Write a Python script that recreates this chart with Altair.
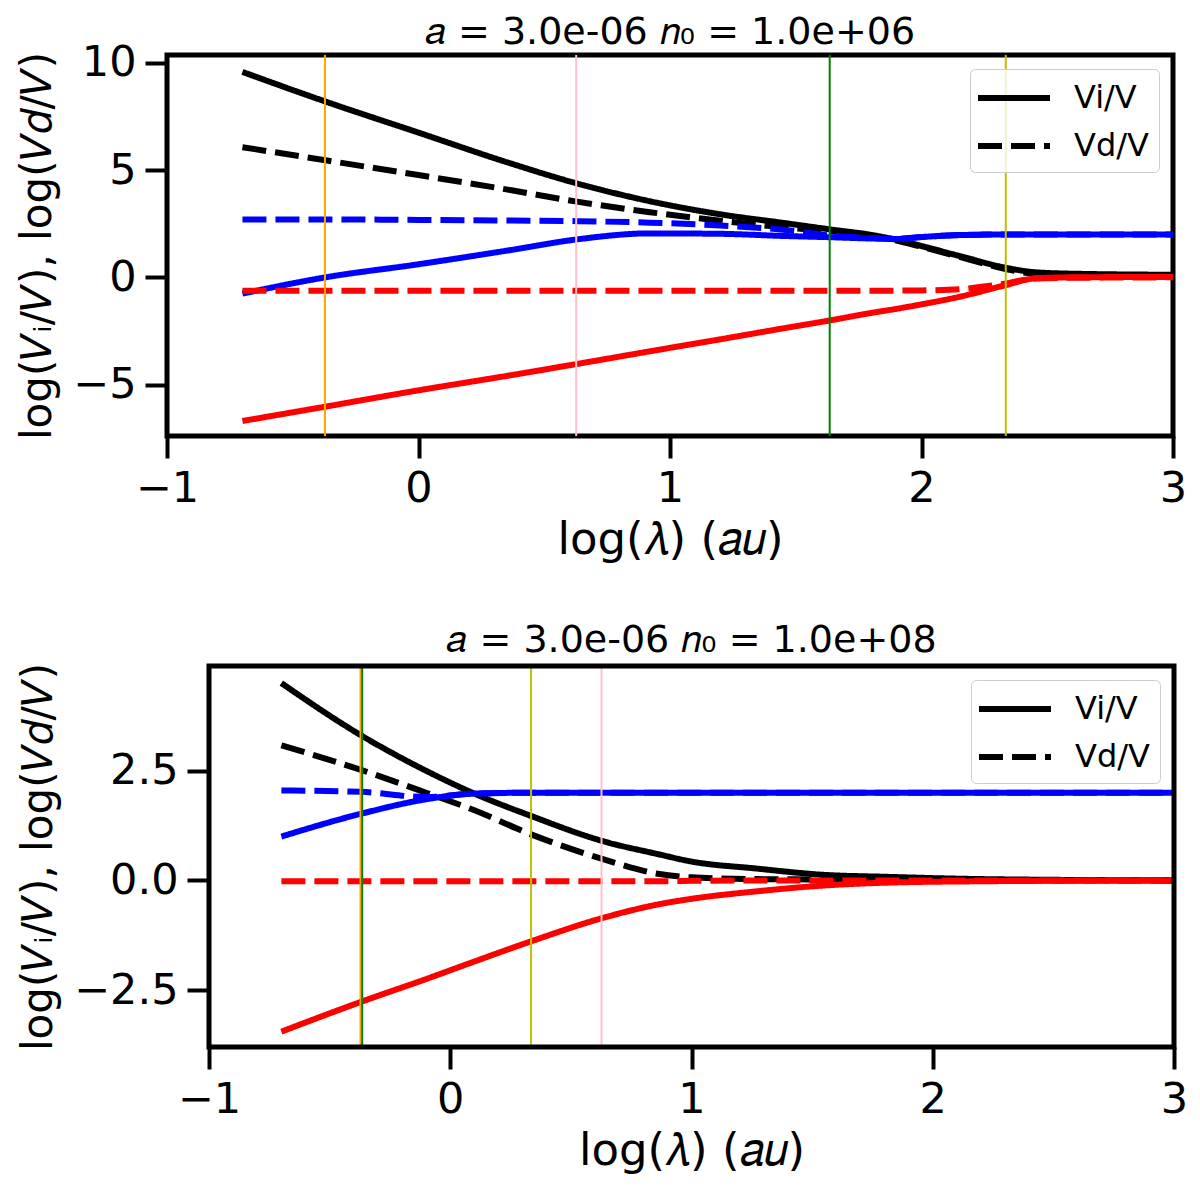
import altair as alt
import pandas as pd

FONT = "DejaVu Sans"

# ---- upper panel: a = 3.0e-06, n0 = 1.0e+06
top_x = [-0.7, -0.37, 0.0, 0.37, 0.63, 0.92, 1.2, 1.45, 1.64, 1.8, 1.9, 2.0, 2.15, 2.33, 2.45, 2.6, 3.0]
top_black_vi = [9.58, 8.2, 6.75, 5.3, 4.38, 3.55, 2.94, 2.54, 2.23, 1.98, 1.75, 1.46, 1.0, 0.46, 0.24, 0.17, 0.12]
top_black_vd = [6.07, 5.46, 4.77, 4.06, 3.53, 3.04, 2.64, 2.33, 2.15, 1.92, 1.72, 1.42, 0.96, 0.4, 0.16, 0.08, 0.05]
top_blue_vi = [-0.76, 0.0, 0.61, 1.28, 1.77, 2.05, 2.03, 1.93, 1.87, 1.81, 1.79, 1.88, 1.97, 2.0, 2.0, 2.0, 2.0]
top_blue_vd = [2.7, 2.7, 2.68, 2.65, 2.62, 2.55, 2.42, 2.22, 1.95, 1.84, 1.8, 1.88, 1.97, 2.0, 2.0, 2.0, 2.0]
top_red_vi = [-6.7, -6.03, -5.27, -4.56, -4.04, -3.45, -2.89, -2.38, -2.0, -1.66, -1.47, -1.26, -0.91, -0.38, -0.05, 0.0, 0.02]
top_red_vd = [-0.62, -0.62, -0.62, -0.62, -0.62, -0.62, -0.62, -0.62, -0.62, -0.62, -0.62, -0.61, -0.55, -0.3, -0.05, -0.02, 0.0]
top_rule_x = [-0.372, 0.627, 1.635, 2.335]
top_rule_color = ["#ffa500", "#ffc0cb", "#008000", "#bfbf00"]

# ---- lower panel: a = 3.0e-06, n0 = 1.0e+08
bot_x = [-0.7, -0.37, -0.1, 0.1, 0.335, 0.63, 0.86, 1.0, 1.27, 1.54, 1.82, 2.2, 3.0]
bot_black_vi = [4.5, 3.31, 2.5, 1.98, 1.47, 0.9, 0.6, 0.43, 0.27, 0.13, 0.08, 0.03, 0.0]
bot_black_vd = [3.08, 2.52, 2.0, 1.6, 1.05, 0.49, 0.15, 0.07, 0.03, 0.02, 0.01, 0.0, 0.0]
bot_blue_vi = [1.0, 1.52, 1.85, 1.98, 2.0, 2.0, 2.0, 2.0, 2.0, 2.0, 2.0, 2.0, 2.0]
bot_blue_vd = [2.05, 2.02, 1.9, 1.98, 2.0, 2.0, 2.0, 2.0, 2.0, 2.0, 2.0, 2.0, 2.0]
bot_red_vi = [-3.45, -2.77, -2.25, -1.85, -1.39, -0.86, -0.55, -0.42, -0.25, -0.12, -0.05, -0.02, 0.0]
bot_red_vd = [-0.02, -0.02, -0.02, -0.02, -0.02, -0.02, -0.02, -0.01, 0.0, 0.0, 0.0, 0.0, 0.0]
bot_rule_x = [-0.372, -0.365, 0.335, 0.627]
bot_rule_color = ["#ffa500", "#008000", "#bfbf00", "#ffc0cb"]

X_TITLE = "log(𝜆) (𝑎𝑢)"
Y_TITLE = "log(𝑉ᵢ/𝑉), log(𝑉𝑑/𝑉)"
KINDS = ["Vi/V", "Vd/V"]


def curves(xs, series):
    rows = []
    for name, color, kind, ys in series:
        for x, y in zip(xs, ys):
            rows.append({"x": x, "y": y, "series": name, "color": color, "kind": kind})
    return pd.DataFrame(rows)


def panel(df, rule_x, rule_color, title, xdomain, ydomain, yticks, yfmt, width, height,
          shift=0, title_offset=2):
    # shift > 0: the framed area starts `shift` px right of the view origin
    if shift:
        x_axis = alt.Axis(values=[-1, 0, 1, 2, 3], format="d", title=X_TITLE,
                          titleX=shift + (width - shift) / 2)
    else:
        x_axis = alt.Axis(values=[-1, 0, 1, 2, 3], format="d", title=X_TITLE)
    y_axis = alt.Axis(values=yticks, format=yfmt, title=Y_TITLE, offset=-shift)

    x = alt.X("x:Q", scale=alt.Scale(domain=xdomain, nice=False, zero=False), axis=x_axis)
    y = alt.Y("y:Q", scale=alt.Scale(domain=ydomain, nice=False, zero=False), axis=y_axis)

    lines = (
        alt.Chart(df)
        .mark_line(strokeWidth=6, interpolate="monotone")
        .encode(
            x=x,
            y=y,
            color=alt.Color("color:N", scale=None),
            strokeDash=alt.StrokeDash(
                "kind:N",
                scale=alt.Scale(domain=KINDS, range=[[1, 0], [24, 9]]),
                legend=alt.Legend(
                    title=None,
                    orient="top-right",
                    offset=14,
                    symbolType="M-2.25,0L2.25,0",
                    symbolSize=1024,
                    symbolOffset=15,
                    symbolStrokeWidth=6,
                    symbolStrokeColor="black",
                    labelFont=FONT,
                    labelFontSize=32,
                    labelColor="black",
                    labelOffset=41,
                    padding=10,
                    rowPadding=13,
                    fillColor="rgba(255,255,255,0.8)",
                    strokeColor="#cccccc",
                    cornerRadius=5,
                ),
            ),
            detail="series:N",
        )
    )

    rules = (
        alt.Chart(pd.DataFrame({"x": rule_x, "color": rule_color}))
        .mark_rule(strokeWidth=2)
        .encode(x="x:Q", color=alt.Color("color:N", scale=None))
    )

    layers = [lines, rules]
    view = alt.ViewBackground(stroke="black", strokeWidth=5)
    if shift:
        frame = (
            alt.Chart(pd.DataFrame({"k": [0]}))
            .mark_rect(filled=False, stroke="black", strokeWidth=5)
            .encode(
                x=alt.datum(-1),
                x2=alt.datum(xdomain[1]),
                y=alt.datum(ydomain[0]),
                y2=alt.datum(ydomain[1]),
            )
        )
        layers.append(frame)
        view = alt.ViewBackground(stroke="transparent", strokeWidth=0)

    return alt.layer(*layers).properties(
        width=width,
        height=height,
        view=view,
        title=alt.Title(title, anchor="middle", fontSize=38, font=FONT,
                        fontWeight="normal", offset=title_offset, dx=shift / 2),
    )


top_df = curves(top_x, [
    ("black_vi", "black", "Vi/V", top_black_vi),
    ("black_vd", "black", "Vd/V", top_black_vd),
    ("blue_vi", "blue", "Vi/V", top_blue_vi),
    ("blue_vd", "blue", "Vd/V", top_blue_vd),
    ("red_vi", "red", "Vi/V", top_red_vi),
    ("red_vd", "red", "Vd/V", top_red_vd),
])

bot_df = curves(bot_x, [
    ("black_vi", "black", "Vi/V", bot_black_vi),
    ("black_vd", "black", "Vd/V", bot_black_vd),
    ("blue_vi", "blue", "Vi/V", bot_blue_vi),
    ("blue_vd", "blue", "Vd/V", bot_blue_vd),
    ("red_vi", "red", "Vi/V", bot_red_vi),
    ("red_vd", "red", "Vd/V", bot_red_vd),
])

top = panel(top_df, top_rule_x, top_rule_color, "𝑎 = 3.0e-06 𝑛₀ = 1.0e+06",
            [-1, 3], [-7.40, 10.37], [-5, 0, 5, 10], "d", 1006, 381, title_offset=-10)
bottom = panel(bot_df, bot_rule_x, bot_rule_color, "𝑎 = 3.0e-06 𝑛₀ = 1.0e+08",
               [-1.1741, 3], [-3.80, 4.89], [-2.5, 0, 2.5], ".1f", 1007, 381, shift=42)

chart = (
    alt.vconcat(top, bottom, spacing=57)
    .resolve_scale(x="independent", y="independent", strokeDash="independent")
    .resolve_legend(strokeDash="independent")
    .properties(padding={"left": 6, "top": 3, "right": 0, "bottom": 4})
    .configure_axis(
        domain=False,
        grid=False,
        ticks=True,
        tickSize=22,
        tickWidth=4,
        tickColor="black",
        labelFont=FONT,
        labelFontSize=43,
        labelColor="black",
        labelPadding=9,
        labelFlush=False,
        labelOverlap=False,
        titleFont=FONT,
        titleFontWeight="normal",
        titleColor="black",
    )
    .configure_axisX(titlePadding=7, titleFontSize=45)
    .configure_axisY(titlePadding=13, titleFontSize=42)
    .configure_title(font=FONT, fontSize=38, fontWeight="normal", color="black")
)

chart.save("out.html", embed_options={"renderer": "svg", "actions": False})
